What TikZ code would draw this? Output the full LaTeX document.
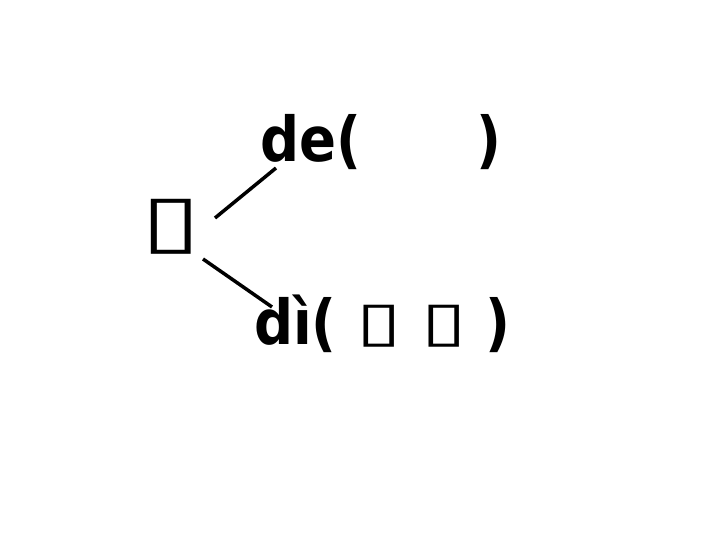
\documentclass[tikz,border=0pt]{standalone}
\usepackage{fontspec}
\setmainfont{DejaVu Sans}
\newfontfamily\pinyinfont[FakeStretch=0.88]{DejaVu Sans Bold}
\newfontfamily\boxfont[FakeStretch=1.5]{DejaVu Sans}
\newcommand\smallchar{\raisebox{4pt}{\boxfont\fontsize{55}{55}\selectfont ▯}}
\usetikzlibrary{calc}

\begin{document}
\begin{tikzpicture}[x=1pt,y=1pt,
    charnode/.style={inner sep=0pt, font=\boxfont\fontsize{72}{72}\selectfont},
    readnode/.style={inner sep=0pt, anchor=base west, font=\pinyinfont\fontsize{62}{62}\selectfont},
    branch/.style={line width=3.5pt}
    ]
  \useasboundingbox (0,0) rectangle (720,540);
  % nodes
  \node[charnode] (Char) at (171,313) {▯};
  \node[readnode] (De) at ($(Char)+(89,65)$) {de(\hspace{115pt})};
  \node[readnode] (Di) at ($(Char)+(83,-118)$) {dì(\hspace{20pt}\smallchar\hspace{19pt}\smallchar\hspace{19pt})};
  % lines
  \draw[branch] ($(Char)+(44,9)$) -- ($(De.base west)+(16,-6)$);
  \draw[branch] ($(Char)+(32,-32)$) -- ($(Di.base west)+(18,38)$);
\end{tikzpicture}
\end{document}
